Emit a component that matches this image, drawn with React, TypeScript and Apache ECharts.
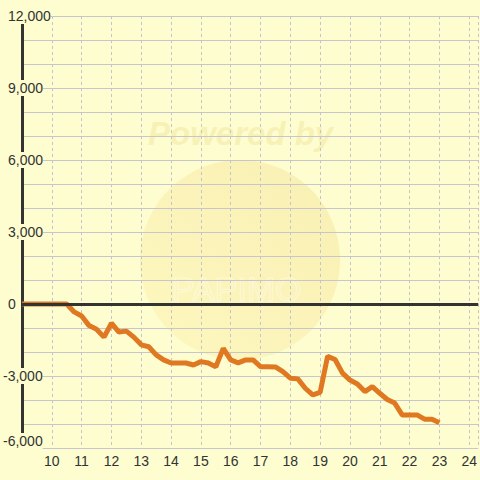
import React, { useEffect, useRef } from "react";
import * as echarts from "echarts";

const hours = [
  9, 9.25, 9.5, 9.75, 10, 10.25, 10.5, 10.75, 11, 11.25, 11.5, 11.75, 12, 12.25, 12.5, 12.75,
  13, 13.25, 13.5, 13.75, 14, 14.25, 14.5, 14.75, 15, 15.25, 15.5, 15.75, 16, 16.25, 16.5, 16.75,
  17, 17.25, 17.5, 17.75, 18, 18.25, 18.5, 18.75, 19, 19.25, 19.5, 19.75, 20, 20.25, 20.5, 20.75,
  21, 21.25, 21.5, 21.75, 22, 22.25, 22.5, 22.75, 23,
];
const balance = [
  0, 0, 0, 0, 0, 0, 0, -330, -500, -900, -1050, -1380, -800, -1170, -1130, -1380,
  -1700, -1780, -2120, -2330, -2460, -2460, -2460, -2540, -2400, -2460, -2620, -1850, -2330, -2450, -2330, -2330,
  -2610, -2610, -2620, -2820, -3090, -3120, -3510, -3790, -3680, -2180, -2310, -2880, -3170, -3330, -3650, -3440,
  -3720, -3980, -4130, -4620, -4620, -4620, -4800, -4800, -4950,
];

const BG = "#fdfdd0";
const FONT = "'Liberation Sans', Arial, sans-serif";
const GRID_COLOR = "#c6c6cc";

export default function App() {
  const ref = useRef<HTMLDivElement>(null);
  useEffect(() => {
    if (!ref.current) return;
    const chart = echarts.init(ref.current, undefined, { renderer: "svg" });
    const data = hours.map((h, i) => [h, balance[i]]);
    const labelRich = {
      p: { padding: [0, 0, 0, 5], color: "#333", fontSize: 14, fontFamily: FONT },
      n: { color: "#333", fontSize: 14, fontFamily: FONT },
      m: { padding: [0, 0, 14, 0], color: "#333", fontSize: 14, fontFamily: FONT },
    };
    chart.setOption({
      animation: false,
      backgroundColor: BG,
      graphic: [
        {
          type: "circle",
          z: -10,
          shape: { cx: 240, cy: 260, r: 100 },
          style: {
            fill: new echarts.graphic.LinearGradient(0, 1, 1, 0, [
              { offset: 0, color: "rgba(253,240,170,0.45)" },
              { offset: 1, color: "rgba(245,225,150,0.5)" },
            ]),
          },
        },
        {
          type: "text",
          z: -10,
          x: 148,
          y: 117,
          style: {
            text: "Powered by",
            fill: "rgba(238,212,115,0.3)",
            font: "italic bold 33px " + FONT,
          },
        },
        {
          type: "text",
          z: -10,
          x: 172,
          y: 272,
          style: {
            text: "PAPIMO",
            fill: "rgba(255,255,255,0)",
            stroke: "rgba(255,255,255,0.45)",
            lineWidth: 1,
            font: "34px " + FONT,
          },
        },
      ],
      grid: { left: 21, right: 0, top: 16, bottom: 32, containLabel: false },
      xAxis: {
        type: "value",
        min: 9,
        max: 24.3,
        interval: 1,
        axisLine: { show: false, onZero: false },
        axisTick: { show: false },
        axisLabel: {
          margin: 6,
          color: "#333",
          fontSize: 14,
          fontFamily: FONT,
          showMinLabel: false,
          showMaxLabel: false,
          formatter: (v: number) => (Number.isInteger(v) && v >= 10 ? String(v) : ""),
        },
        splitLine: {
          show: true,
          lineStyle: { color: "#c4c4cc", type: [3, 3], width: 1 },
        },
      },
      yAxis: {
        type: "value",
        min: -6000,
        max: 12000,
        interval: 3000,
        axisLine: { show: true, onZero: false, lineStyle: { color: "#333", width: 3 } },
        axisTick: { show: false },
        minorTick: { show: false, splitNumber: 3 },
        minorSplitLine: { show: true, lineStyle: { color: GRID_COLOR, width: 1 } },
        axisLabel: {
          align: "left",
          margin: 19,
          color: "#333",
          fontSize: 14,
          fontFamily: FONT,
          backgroundColor: BG,
          padding: [1, 0, 1, 0],
          rich: labelRich,
          formatter: (v: number) => {
            const s = v.toLocaleString("en-US");
            if (v === -6000) return "{m|" + s + "}";
            if (v < 0) return "{n|" + s + "}";
            return "{p|" + s + "}";
          },
        },
        splitLine: { show: true, lineStyle: { color: GRID_COLOR, width: 1 } },
      },
      series: [
        {
          type: "line",
          data: [],
          z: 1,
          silent: true,
          markLine: {
            silent: true,
            symbol: ["none", "none"],
            label: { show: false },
            lineStyle: { color: "#333", width: 3, type: "solid" },
            data: [{ yAxis: 0 }],
          },
        },
        {
          type: "line",
          data,
          z: 3,
          showSymbol: false,
          lineStyle: { color: "#e07822", width: 5 },
          itemStyle: { color: "#e07822" },
        },
      ],
    });
    return () => chart.dispose();
  }, []);
  return (
    <div
      ref={ref}
      style={{ position: "fixed", left: 0, top: 0, width: 480, height: 480 }}
    />
  );
}
